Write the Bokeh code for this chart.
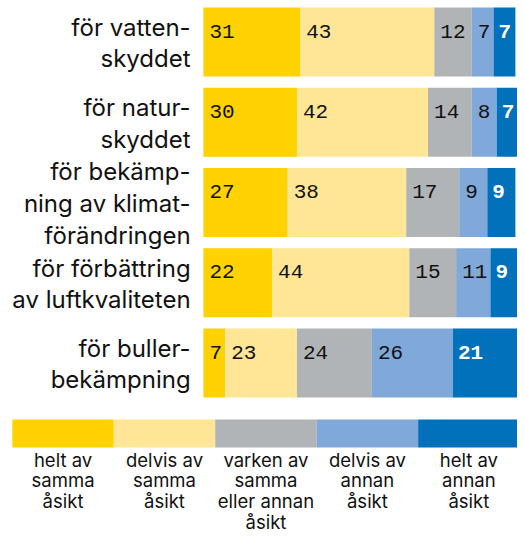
from bokeh.plotting import figure
from bokeh.models import Range1d
from bokeh.embed import file_html
from bokeh.resources import INLINE
from bokeh.core.properties import value

categories = [
    "för vatten-\nskyddet",
    "för natur-\nskyddet",
    "för bekämp-\nning av klimat-\nförändringen",
    "för förbättring\nav luftkvaliteten",
    "för buller-\nbekämpning",
]
helt_samma = [31, 30, 27, 22, 7]
delvis_samma = [43, 42, 38, 44, 23]
varken = [12, 14, 17, 15, 24]
delvis_annan = [7, 8, 9, 11, 26]
helt_annan = [7, 7, 9, 9, 21]
series = [helt_samma, delvis_samma, varken, delvis_annan, helt_annan]
series_labels = [
    "helt av\nsamma\nåsikt",
    "delvis av\nsamma\nåsikt",
    "varken av\nsamma\neller annan\nåsikt",
    "delvis av\nannan\nåsikt",
    "helt av\nannan\nåsikt",
]
colors = ["#FFD200", "#FFE596", "#B1B4B6", "#80A8D8", "#0071BA"]

W, H = 517, 536
F = 0.985
S = 3.12              # px per percent
X0 = 206 * F          # px where bars start
TOP0, PITCH, BAR_H = 7, 81.5 * F, 70 * F

def px2x(px):
    return (px - X0) / S

p = figure(width=W, height=H, x_range=Range1d(px2x(0), px2x(W)),
           y_range=Range1d(H, 0), output_backend="svg", toolbar_location=None,
           x_axis_location=None, y_axis_location=None, min_border=0)
p.grid.visible = False
p.outline_line_color = None
p.background_fill_color = "white"

n = len(categories)
tops = [TOP0 + i * PITCH for i in range(n)]
centers = [t + BAR_H / 2 for t in tops]
cum = [0] * n
for j, vals in enumerate(series):
    lefts = cum[:]
    rights = [l + v for l, v in zip(lefts, vals)]
    p.hbar(y=centers, left=lefts, right=rights, height=BAR_H,
           fill_color=colors[j], line_color=None)
    pad = 5 if j == 4 else 6
    p.text(x=[l + pad / S for l in lefts], y=[t + 24 * F for t in tops],
           text=[str(v) for v in vals],
           text_font=value("Liberation Mono"), text_font_size="21px",
           text_baseline="middle", text_align="left",
           text_color="white" if j == 4 else "#111111",
           text_font_style="bold" if j == 4 else "normal")
    cum = rights

p.text(x=[px2x(193 * F)] * n, y=[c + 1 for c in centers], text=categories,
       text_align="right", text_baseline="middle",
       text_font=value("Inter"), text_font_size="24px",
       text_line_height=1.09, text_color="#111111")

# legend
LW = 103 * F
lx = [12 * F + i * LW for i in range(len(colors))]
p.quad(left=[px2x(x) for x in lx], right=[px2x(x + LW) for x in lx],
       top=[419] * len(colors), bottom=[447] * len(colors),
       fill_color=colors, line_color=None)
p.text(x=[px2x(x + LW / 2) for x in lx], y=[448] * len(colors),
       text=series_labels, text_align="center", text_baseline="top",
       text_font=value("Inter"), text_font_size="18.5px",
       text_line_height=0.94, text_color="#111111")

open("out.html", "w").write(file_html(p, INLINE))
